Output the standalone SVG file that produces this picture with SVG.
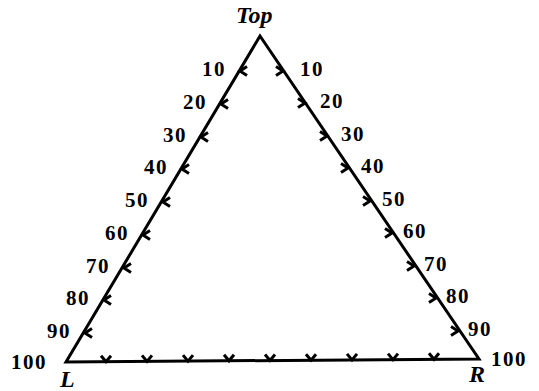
<svg xmlns="http://www.w3.org/2000/svg" width="539" height="391" viewBox="0 0 539 391">
<style>
.lbl{font-family:"Liberation Serif","Times New Roman",serif;font-weight:bold;font-size:21px;letter-spacing:1.5px;fill:#000}
.vtx{font-family:"Liberation Serif","Times New Roman",serif;font-weight:bold;font-style:italic;font-size:24px;fill:#000}
.edge{fill:none;stroke:#000;stroke-width:3;stroke-linejoin:miter}
.tk{fill:none;stroke:#000;stroke-width:3;stroke-linecap:butt;stroke-linejoin:miter}
</style>
<defs>
<path id="tl" d="M7,-4.5 L0,0 L7,4.5" class="tk"/>
<path id="tr" d="M-7,-4.5 L0,0 L-7,4.5" class="tk"/>
<path id="tb" d="M-5,-6 L0,0 L5,-6" class="tk"/>
</defs>
<g id="connectors">
<path class="edge" d="M260,36 L66,362 L479,359 Z"/>
</g>
<g id="node-top"><text class="vtx" x="236" y="23">Top</text></g>
<g id="node-L"><text class="vtx" x="60" y="387">L</text></g>
<g id="node-R"><text class="vtx" x="469" y="382">R</text></g>
<g id="left-ticks">
<use href="#tl" x="240" y="71"/>
<use href="#tl" x="221" y="104"/>
<use href="#tl" x="201" y="137"/>
<use href="#tl" x="182" y="169"/>
<use href="#tl" x="163" y="202"/>
<use href="#tl" x="143" y="235"/>
<use href="#tl" x="124" y="268"/>
<use href="#tl" x="104" y="300"/>
<use href="#tl" x="85" y="333"/>
</g>
<g id="right-ticks">
<use href="#tr" x="283" y="71"/>
<use href="#tr" x="305" y="103"/>
<use href="#tr" x="327" y="136"/>
<use href="#tr" x="348" y="168"/>
<use href="#tr" x="370" y="201"/>
<use href="#tr" x="392" y="233"/>
<use href="#tr" x="414" y="266"/>
<use href="#tr" x="436" y="298"/>
<use href="#tr" x="458" y="331"/>
</g>
<g id="base-ticks">
<use href="#tb" x="106" y="361.7"/>
<use href="#tb" x="147" y="361.4"/>
<use href="#tb" x="188" y="361.1"/>
<use href="#tb" x="229" y="360.8"/>
<use href="#tb" x="270" y="360.5"/>
<use href="#tb" x="311" y="360.2"/>
<use href="#tb" x="352" y="359.9"/>
<use href="#tb" x="393" y="359.6"/>
<use href="#tb" x="434" y="359.3"/>
</g>
<g id="left-labels">
<text class="lbl" x="202" y="76">10</text>
<text class="lbl" x="183" y="109">20</text>
<text class="lbl" x="163" y="142">30</text>
<text class="lbl" x="144" y="174">40</text>
<text class="lbl" x="125" y="207">50</text>
<text class="lbl" x="105" y="240">60</text>
<text class="lbl" x="86" y="273">70</text>
<text class="lbl" x="66" y="305">80</text>
<text class="lbl" x="47" y="338">90</text>
<text class="lbl" x="11" y="369">100</text>
</g>
<g id="right-labels">
<text class="lbl" x="300" y="76">10</text>
<text class="lbl" x="320" y="108">20</text>
<text class="lbl" x="341" y="141">30</text>
<text class="lbl" x="361" y="173">40</text>
<text class="lbl" x="382" y="206">50</text>
<text class="lbl" x="403" y="238">60</text>
<text class="lbl" x="424" y="271">70</text>
<text class="lbl" x="446" y="303">80</text>
<text class="lbl" x="468" y="336">90</text>
<text class="lbl" x="491" y="366">100</text>
</g>
</svg>
